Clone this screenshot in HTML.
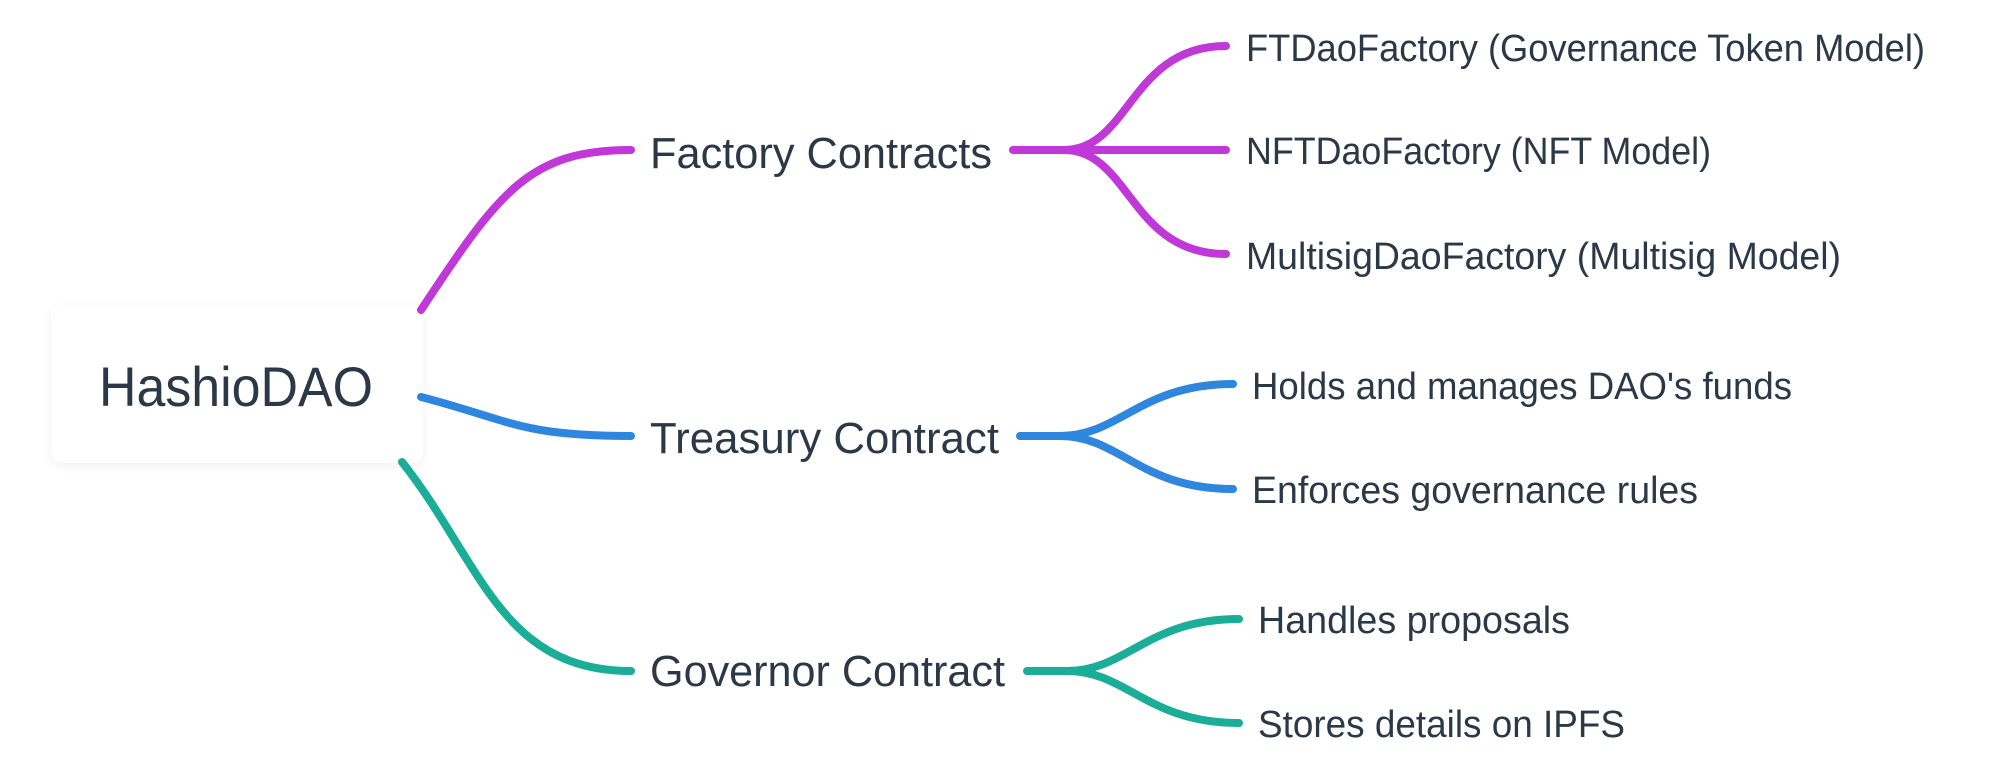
<!DOCTYPE html>
<html><head><meta charset="utf-8"><style>
html,body{margin:0;padding:0;background:#fff;}
svg{display:block}
text{font-family:"Liberation Sans",sans-serif;fill:#2b3847;}
</style></head><body>
<svg width="2000" height="763" viewBox="0 0 2000 763" xmlns="http://www.w3.org/2000/svg">
<defs><filter id="sh" x="-10%" y="-10%" width="120%" height="130%"><feDropShadow dx="0" dy="3" stdDeviation="5" flood-color="#000" flood-opacity="0.06"/></filter></defs>
<rect x="51" y="305" width="372" height="158" rx="12" fill="#fff" filter="url(#sh)"/>
<g fill="none" stroke-width="8" stroke-linecap="round">
<path d="M421,310 C500,190 530,150 631,150" stroke="#c038d8"/>
<path d="M421,397 C510,420 520,436 631,436" stroke="#2e86de"/>
<path d="M402,462 C480,560 500,671 631,671" stroke="#1aae98"/>
<path d="M1013,150 L1064,150 C1130,150 1130,46 1226,46" stroke="#c038d8"/>
<path d="M1064,150 L1226,150" stroke="#c038d8"/>
<path d="M1064,150 C1130,150 1130,254 1226,254" stroke="#c038d8"/>
<path d="M1020,436 L1060,436 C1120,436 1140,384 1233,384" stroke="#2e86de"/>
<path d="M1060,436 C1120,436 1140,489 1233,489" stroke="#2e86de"/>
<path d="M1027,671 L1067,671 C1127,671 1147,619 1239,619" stroke="#1aae98"/>
<path d="M1067,671 C1127,671 1147,723 1239,723" stroke="#1aae98"/>
</g>
<text x="99" y="406" font-size="56" textLength="274" lengthAdjust="spacingAndGlyphs">HashioDAO</text>
<text x="650" y="168" font-size="44" textLength="342" lengthAdjust="spacingAndGlyphs">Factory Contracts</text>
<text x="650" y="453" font-size="44" textLength="349" lengthAdjust="spacingAndGlyphs">Treasury Contract</text>
<text x="650" y="686" font-size="44" textLength="355" lengthAdjust="spacingAndGlyphs">Governor Contract</text>
<text x="1246" y="61" font-size="38" textLength="679" lengthAdjust="spacingAndGlyphs">FTDaoFactory (Governance Token Model)</text>
<text x="1246" y="164" font-size="38" textLength="465" lengthAdjust="spacingAndGlyphs">NFTDaoFactory (NFT Model)</text>
<text x="1246" y="269" font-size="38" textLength="595" lengthAdjust="spacingAndGlyphs">MultisigDaoFactory (Multisig Model)</text>
<text x="1252" y="399" font-size="38" textLength="540" lengthAdjust="spacingAndGlyphs">Holds and manages DAO's funds</text>
<text x="1252" y="503" font-size="38" textLength="446" lengthAdjust="spacingAndGlyphs">Enforces governance rules</text>
<text x="1258" y="633" font-size="38" textLength="312" lengthAdjust="spacingAndGlyphs">Handles proposals</text>
<text x="1258" y="737" font-size="38" textLength="367" lengthAdjust="spacingAndGlyphs">Stores details on IPFS</text>
</svg>
</body></html>
